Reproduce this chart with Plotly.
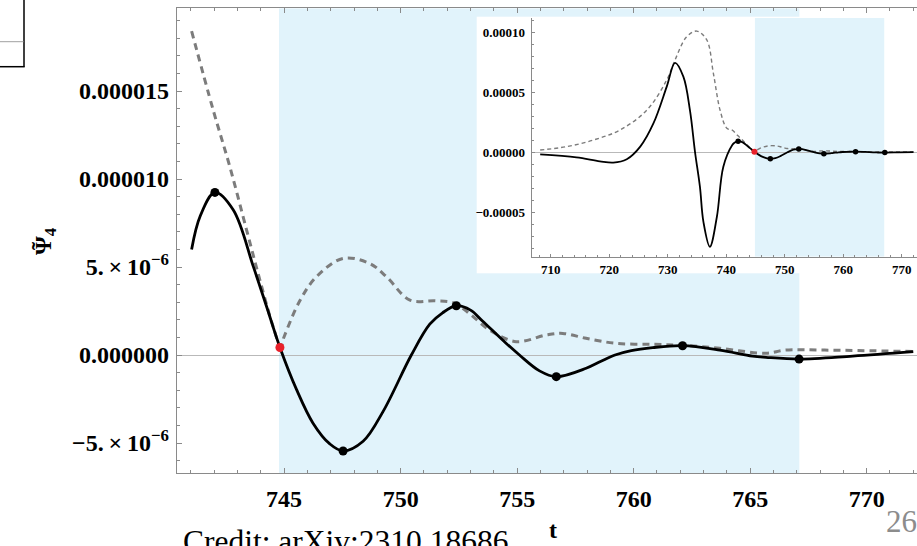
import plotly.graph_objects as go

W, H = 917, 546

# ---------------- data (values of Psi4 in units of 1e-6) ----------------
main_t = [741.03, 741.4, 742.03, 742.82, 743.68, 744.25, 744.82, 745.53, 746.24, 746.96,
          747.53, 748.39, 749.25, 750.46, 751.25, 751.8, 752.39, 753.0, 753.5, 754.5,
          755.1, 755.96, 756.68, 757.96, 758.6, 759.2, 759.9, 760.82, 762.1, 763.7,
          765.1, 765.68, 767.1, 769.4, 772.0]
main_re = [6.0, 7.9, 9.24, 8.24, 5.02, 2.74, 0.43, -1.95, -3.87, -5.05,
           -5.45, -4.9, -3.2, 0.0, 1.75, 2.4, 2.80, 2.55, 1.95, 0.7,
           0.0, -0.9, -1.23, -0.75, -0.35, 0.0, 0.25, 0.42, 0.53, 0.28,
           -0.06, -0.13, -0.23, -0.06, 0.19]

main_abs_t = [741.03, 741.96, 742.67, 743.39, 743.96, 744.53, 744.85, 745.0, 745.68, 746.39,
              747.53, 748.67, 749.39, 750.4, 751.5, 752.3, 753.0, 753.82, 754.96, 756.25,
              756.96, 757.96, 759.25, 760.82, 762.1, 763.7, 765.68, 766.5, 768.2, 772.0]
main_abs = [18.4, 13.9, 10.7, 7.1, 4.26, 1.6, 0.5, 1.04, 3.1, 4.45,
            5.49, 5.2, 4.45, 3.12, 3.08, 2.95, 2.3, 1.42, 0.76, 1.14,
            1.23, 0.95, 0.66, 0.61, 0.55, 0.38, 0.1, 0.28, 0.28, 0.2]

extrema_t = [742.03, 747.53, 752.39, 756.68, 762.1, 767.1]
extrema_v = [9.24, -5.45, 2.80, -1.23, 0.53, -0.23]
start_t = [744.82]
start_v = [0.43]
window_t = [744.78, 767.11]

# early part of the waveform shown only in the inset
inset_re_t = [708.2, 714.4, 718.4, 720.7, 723.0, 725.3, 727.55, 729.83, 731.25, 732.67,
              733.8, 734.67, 735.5, 736.1, 737.2, 738.4, 739.5]
inset_re = [-1.67, -4.2, -7.5, -8.6, -5.8, 4.7, 24.0, 54.7, 74.5, 63.0,
            35.0, 0.0, -28.7, -58.0, -78.7, -53.7, -12.0]
inset_abs_t = [708.2, 712.7, 717.3, 721.85, 726.4, 729.8, 731.25, 733.2, 734.95, 736.67,
               737.8, 738.95, 740.1]
inset_abs = [1.9, 4.7, 10.2, 18.6, 35.0, 60.0, 77.0, 96.0, 101.0, 93.6,
             65.8, 35.0, 20.0]

# tick labels
main_xticks = [745, 750, 755, 760, 765, 770]
main_yticks = [-5e-6, 0.0, 5e-6, 1e-5, 1.5e-5]
main_ytext = ["\u22125.\u2009\u00d7\u200910<sup>\u22126</sup>", "0.000000",
              "5.\u2009\u00d7\u200910<sup>\u22126</sup>", "0.000010", "0.000015"]
inset_xticks = [710, 720, 730, 740, 750, 760, 770]
inset_yticks = [-5e-5, 0.0, 5e-5, 1e-4]
inset_ytext = ["\u22120.00005", "0.00000", "0.00005", "0.00010"]

U = 1e-6


def sc(vals):
    return [v * U for v in vals]


def px(x):
    return x / W


def py(y):
    return 1 - y / H


SERIF = "Liberation Serif"
AX = "#8a8a8a"
BLUE = "#e1f3fb"
SM = 1.0

fig = go.Figure()

# ---- main plot ----
fig.add_trace(go.Scatter(x=main_abs_t, y=sc(main_abs), mode="lines",
                         line=dict(color="#7c7c7c", width=3, dash="7px,5px", shape="spline", smoothing=SM),
                         xaxis="x", yaxis="y", hoverinfo="skip"))
fig.add_trace(go.Scatter(x=main_t, y=sc(main_re), mode="lines",
                         line=dict(color="black", width=2.8, shape="spline", smoothing=SM),
                         xaxis="x", yaxis="y", hoverinfo="skip"))
fig.add_trace(go.Scatter(x=extrema_t, y=sc(extrema_v), mode="markers",
                         marker=dict(color="black", size=9),
                         xaxis="x", yaxis="y", hoverinfo="skip"))
fig.add_trace(go.Scatter(x=start_t, y=sc(start_v), mode="markers",
                         marker=dict(color="#e8202a", size=9),
                         xaxis="x", yaxis="y", hoverinfo="skip"))

# ---- white inset panel (overlapping subplot paints its own background) ----
fig.add_trace(go.Scatter(x=[0.5], y=[0.5], mode="markers", marker=dict(opacity=0),
                         xaxis="x2", yaxis="y2", hoverinfo="skip"))

# ---- inset ----
in_abs_t = inset_abs_t + main_abs_t
in_abs = inset_abs + main_abs
in_re_t = inset_re_t + main_t
in_re = inset_re + main_re
fig.add_trace(go.Scatter(x=in_abs_t, y=sc(in_abs), mode="lines",
                         line=dict(color="#7c7c7c", width=1.4, dash="4px,3px", shape="spline", smoothing=SM),
                         xaxis="x3", yaxis="y3", hoverinfo="skip"))
fig.add_trace(go.Scatter(x=in_re_t, y=sc(in_re), mode="lines",
                         line=dict(color="black", width=1.8, shape="spline", smoothing=SM),
                         xaxis="x3", yaxis="y3", hoverinfo="skip"))
fig.add_trace(go.Scatter(x=extrema_t, y=sc(extrema_v), mode="markers",
                         marker=dict(color="black", size=5.5),
                         xaxis="x3", yaxis="y3", hoverinfo="skip"))
fig.add_trace(go.Scatter(x=start_t, y=sc(start_v), mode="markers",
                         marker=dict(color="#e8202a", size=6),
                         xaxis="x3", yaxis="y3", hoverinfo="skip"))

main_yr = [-6.72e-6, 19.70e-6]
inset_yr = [-87e-6, 111.9e-6]

fig.update_layout(
    width=W, height=H, autosize=False,
    margin=dict(l=0, r=0, t=0, b=0, pad=0),
    paper_bgcolor="white", plot_bgcolor="white",
    showlegend=False,
    xaxis=dict(domain=[px(176.7), 1.0], range=[740.39, 772.16], anchor="y",
               tickvals=main_xticks, ticks="inside", ticklen=5, tickwidth=1, tickcolor=AX,
               minor=dict(dtick=1, tick0=745, ticks="inside", ticklen=3, tickcolor=AX),
               showline=True, linecolor=AX, linewidth=1, mirror="ticks",
               showgrid=False, zeroline=False, ticklabelstandoff=4,
               tickfont=dict(family=SERIF, size=24, color="black", weight="bold")),
    yaxis=dict(domain=[py(473.3), py(8.3)], range=main_yr, anchor="x",
               tickvals=main_yticks, ticktext=main_ytext,
               ticks="inside", ticklen=5, tickwidth=1, tickcolor=AX,
               minor=dict(dtick=1e-6, tick0=0, ticks="inside", ticklen=3, tickcolor=AX),
               showline=True, linecolor=AX, linewidth=1,
               showgrid=False, zeroline=True, zerolinecolor="#b9b9b9", zerolinewidth=1,
               ticklabelstandoff=2,
               tickfont=dict(family=SERIF, size=24, color="black", weight="bold")),
    xaxis2=dict(domain=[px(476.7), 1.0], range=[0, 1], anchor="y2", visible=False),
    yaxis2=dict(domain=[py(273.3), py(16.7)], range=[0, 1], anchor="x2", visible=False),
    xaxis3=dict(domain=[px(531.7), 1.0], range=[706.75, 772.6], anchor="y3",
                tickvals=inset_xticks, ticks="inside", ticklen=3, tickwidth=1, tickcolor=AX,
                minor=dict(dtick=2, tick0=710, ticks="inside", ticklen=2, tickcolor=AX),
                showline=True, linecolor=AX, linewidth=1,
                showgrid=False, zeroline=False, ticklabelstandoff=1,
                tickfont=dict(family=SERIF, size=13, color="black", weight="bold")),
    yaxis3=dict(domain=[py(256.7), py(18.0)], range=inset_yr, anchor="x3",
                tickvals=inset_yticks, ticktext=inset_ytext,
                ticks="inside", ticklen=3, tickwidth=1, tickcolor=AX,
                minor=dict(dtick=1e-5, tick0=0, ticks="inside", ticklen=2, tickcolor=AX),
                showline=True, linecolor=AX, linewidth=1,
                showgrid=False, zeroline=True, zerolinecolor="#b9b9b9", zerolinewidth=1,
                ticklabelstandoff=3,
                tickfont=dict(family=SERIF, size=13, color="black", weight="bold")),
)

shapes = [
    dict(type="rect", xref="x", yref="y", x0=window_t[0], x1=window_t[1],
         y0=main_yr[0], y1=main_yr[1], fillcolor=BLUE, line=dict(width=0), layer="below"),
    dict(type="rect", xref="x3", yref="y3", x0=744.9, x1=767.0,
         y0=inset_yr[0], y1=inset_yr[1], fillcolor=BLUE, line=dict(width=0), layer="below"),
    # remnant of a neighbouring box on the slide (top-left)
    dict(type="line", xref="paper", yref="paper", x0=px(24), x1=px(24), y0=py(-2), y1=py(66.7),
         line=dict(color="black", width=1.5)),
    dict(type="line", xref="paper", yref="paper", x0=px(-2), x1=px(24.7), y0=py(66.7), y1=py(66.7),
         line=dict(color="black", width=1.5)),
    dict(type="line", xref="paper", yref="paper", x0=px(-2), x1=px(23.5), y0=py(41.7), y1=py(41.7),
         line=dict(color="#a0a0a0", width=1)),
]
fig.update_layout(shapes=shapes)

annotations = [
    dict(text="\u03a8<sub>4</sub>", x=px(45), y=py(241), xref="paper", yref="paper",
         xanchor="center", yanchor="middle", textangle=-90, showarrow=False,
         font=dict(family=SERIF, size=24, color="black", weight="bold")),
    dict(text="\u02dc", x=px(40), y=py(246), xref="paper", yref="paper",
         xanchor="center", yanchor="middle", textangle=-90, showarrow=False,
         font=dict(family=SERIF, size=24, color="black", weight="bold")),
    dict(text="t", x=px(552.7), y=py(530), xref="paper", yref="paper",
         xanchor="center", yanchor="middle", showarrow=False,
         font=dict(family=SERIF, size=24, color="black", weight="bold")),
    dict(text="Credit: arXiv:2310.18686", x=px(181), y=py(541), xref="paper", yref="paper",
         xanchor="left", yanchor="middle", showarrow=False,
         font=dict(family=SERIF, size=31.5, color="black")),
    dict(text="26", x=px(919), y=py(521), xref="paper", yref="paper",
         xanchor="right", yanchor="middle", showarrow=False,
         font=dict(family=SERIF, size=31, color="#8c8c8c")),
    dict(text="0", x=px(-6), y=py(508), xref="paper", yref="paper",
         xanchor="center", yanchor="middle", showarrow=False,
         font=dict(family=SERIF, size=24, color="black")),
]
fig.update_layout(annotations=annotations)

fig.write_html("out.html")
